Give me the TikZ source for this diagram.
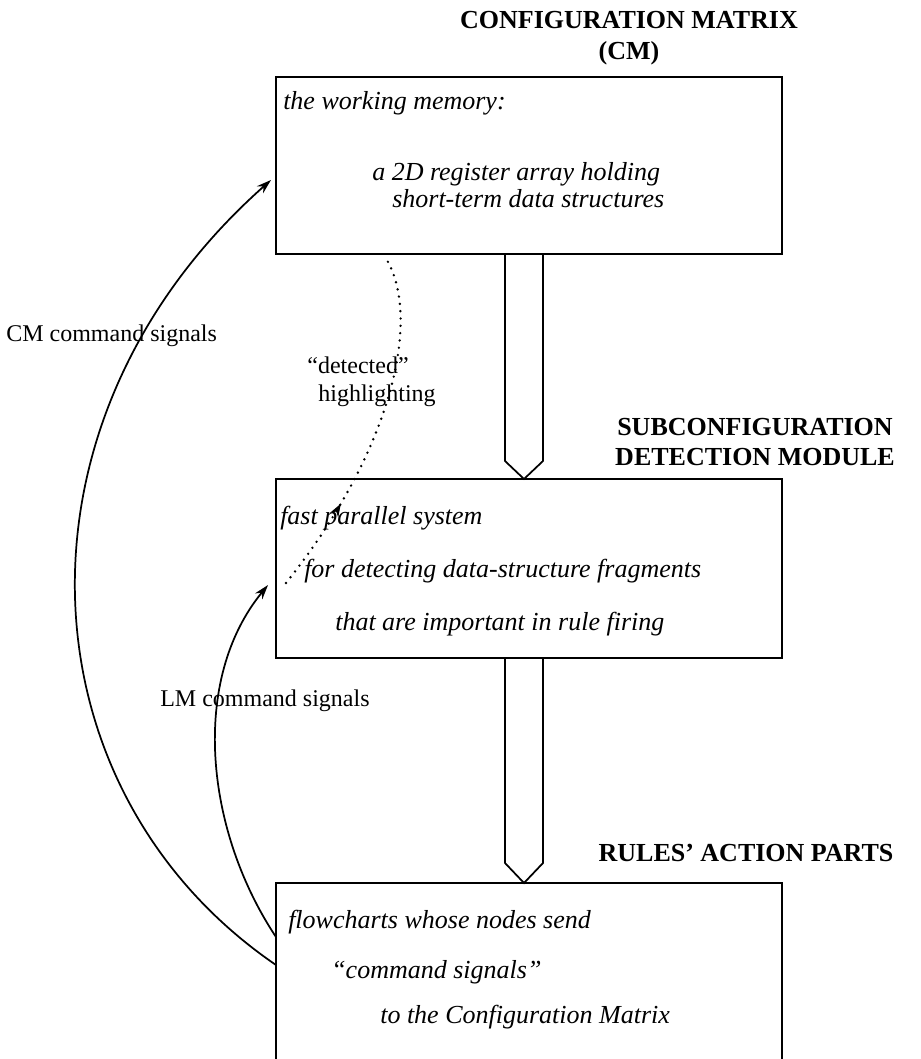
\documentclass[tikz,border=0pt]{standalone}
\usepackage{fontspec}
\setmainfont{Liberation Serif}
\usetikzlibrary{arrows.meta, positioning, calc, decorations.markings}

\begin{document}
\begin{tikzpicture}[
    x=0.75pt, y=-0.75pt,
    box/.style={draw, line width=1.3pt, inner sep=0pt, outer sep=0pt, minimum width=379.5pt, anchor=north west},
    txt/.style={font=\fontsize{19.5}{22}\selectfont\itshape, inner sep=0pt, anchor=base west},
    lbl/.style={font=\fontsize{19.5}{23}\selectfont\bfseries, inner sep=0pt, align=center},
    sig/.style={font=\fontsize{18}{21}\selectfont, inner sep=0pt},
    arr/.style={-{Stealth[length=11pt, width=7pt]}, line width=1.3pt},
    hollow/.style={line width=1.3pt, line join=miter},
    dots/.style={line width=2pt, line cap=round, dash pattern=on 0pt off 5.5pt}
]
\useasboundingbox (0,0) rectangle (920,1059);
\clip (0,0) rectangle (920,1059);

% the three boxes
\node[box, minimum height=132.75pt] (cm) at (276,77) {};
\node[box, minimum height=134.25pt] (sdm) at (276,479) {};
\node[box, minimum height=172pt] (ra) at (276,883) {};

% headings
\node[lbl] (cmlbl) at (629,38) {CONFIGURATION MATRIX\\(CM)};
\node[lbl] (sdmlbl) at (755,442) {SUBCONFIGURATION\\DETECTION MODULE};
\node[lbl, anchor=base] (ralbl) at (746,861) {RULES’ ACTION PARTS};

% box texts
\node[txt] (cmA) at ($(cm.north west)+(7,33)$) {the working memory:};
\node[txt] (cmB) at ($(cm.north west)+(96,104)$) {a 2D register array holding};
\node[txt] (cmC) at ($(cm.north west)+(116,131)$) {short-term data structures};

\node[txt] (sdA) at ($(sdm.north west)+(4,45)$) {fast parallel system};
\node[txt] (sdB) at ($(sdm.north west)+(28,98)$) {for detecting data-structure fragments};
\node[txt] (sdC) at ($(sdm.north west)+(59,151)$) {that are important in rule firing};

\node[txt] (raA) at ($(ra.north west)+(12,45)$) {flowcharts whose nodes send};
\node[txt] (raB) at ($(ra.north west)+(55,95)$) {``command signals''};
\node[txt] (raC) at ($(ra.north west)+(104,140)$) {to the Configuration Matrix};

% hollow arrows between boxes
\draw[hollow] ($(cm.south west)+(229,0)$) -- ($(sdm.north west)+(229,-18)$) -- ($(sdm.north west)+(248,0)$)
    -- ($(sdm.north west)+(267,-18)$) -- ($(cm.south west)+(267,0)$);
\draw[hollow] ($(sdm.south west)+(229,0)$) -- ($(ra.north west)+(229,-20)$) -- ($(ra.north west)+(248,0)$)
    -- ($(ra.north west)+(267,-20)$) -- ($(sdm.south west)+(267,0)$);

% command signals
\draw[arr] ($(ra.north west)+(0,82)$) .. controls (20,790) and (0,420) .. ($(cm.north west)+(-5,103)$);
\draw[arr] ($(ra.north west)+(0,54)$) .. controls (205,830) and (190,680) .. ($(sdm.north west)+(-8,106)$);
\node[sig, anchor=base west] (cmsig) at (6,341) {CM command signals};
\node[sig, anchor=base west] (lmsig) at (160,706) {LM command signals};

% highlighting
\draw[dots, postaction={decorate}, decoration={markings,
    mark=at position 0.27 with {\arrow[line width=1pt]{Stealth[length=10pt, width=7pt]}},
    mark=at position 1 with {\arrow[line width=1pt]{Stealth[length=10pt, width=7pt]}}}]
    ($(sdm.north west)+(10,104)$) .. controls (400,440) and (420,310) .. ($(cm.south west)+(109,3)$);
\node[sig, anchor=base] (det) at (358,373) {``detected''};
\node[sig, anchor=base] (hl) at (377,401) {highlighting};
\end{tikzpicture}
\end{document}
